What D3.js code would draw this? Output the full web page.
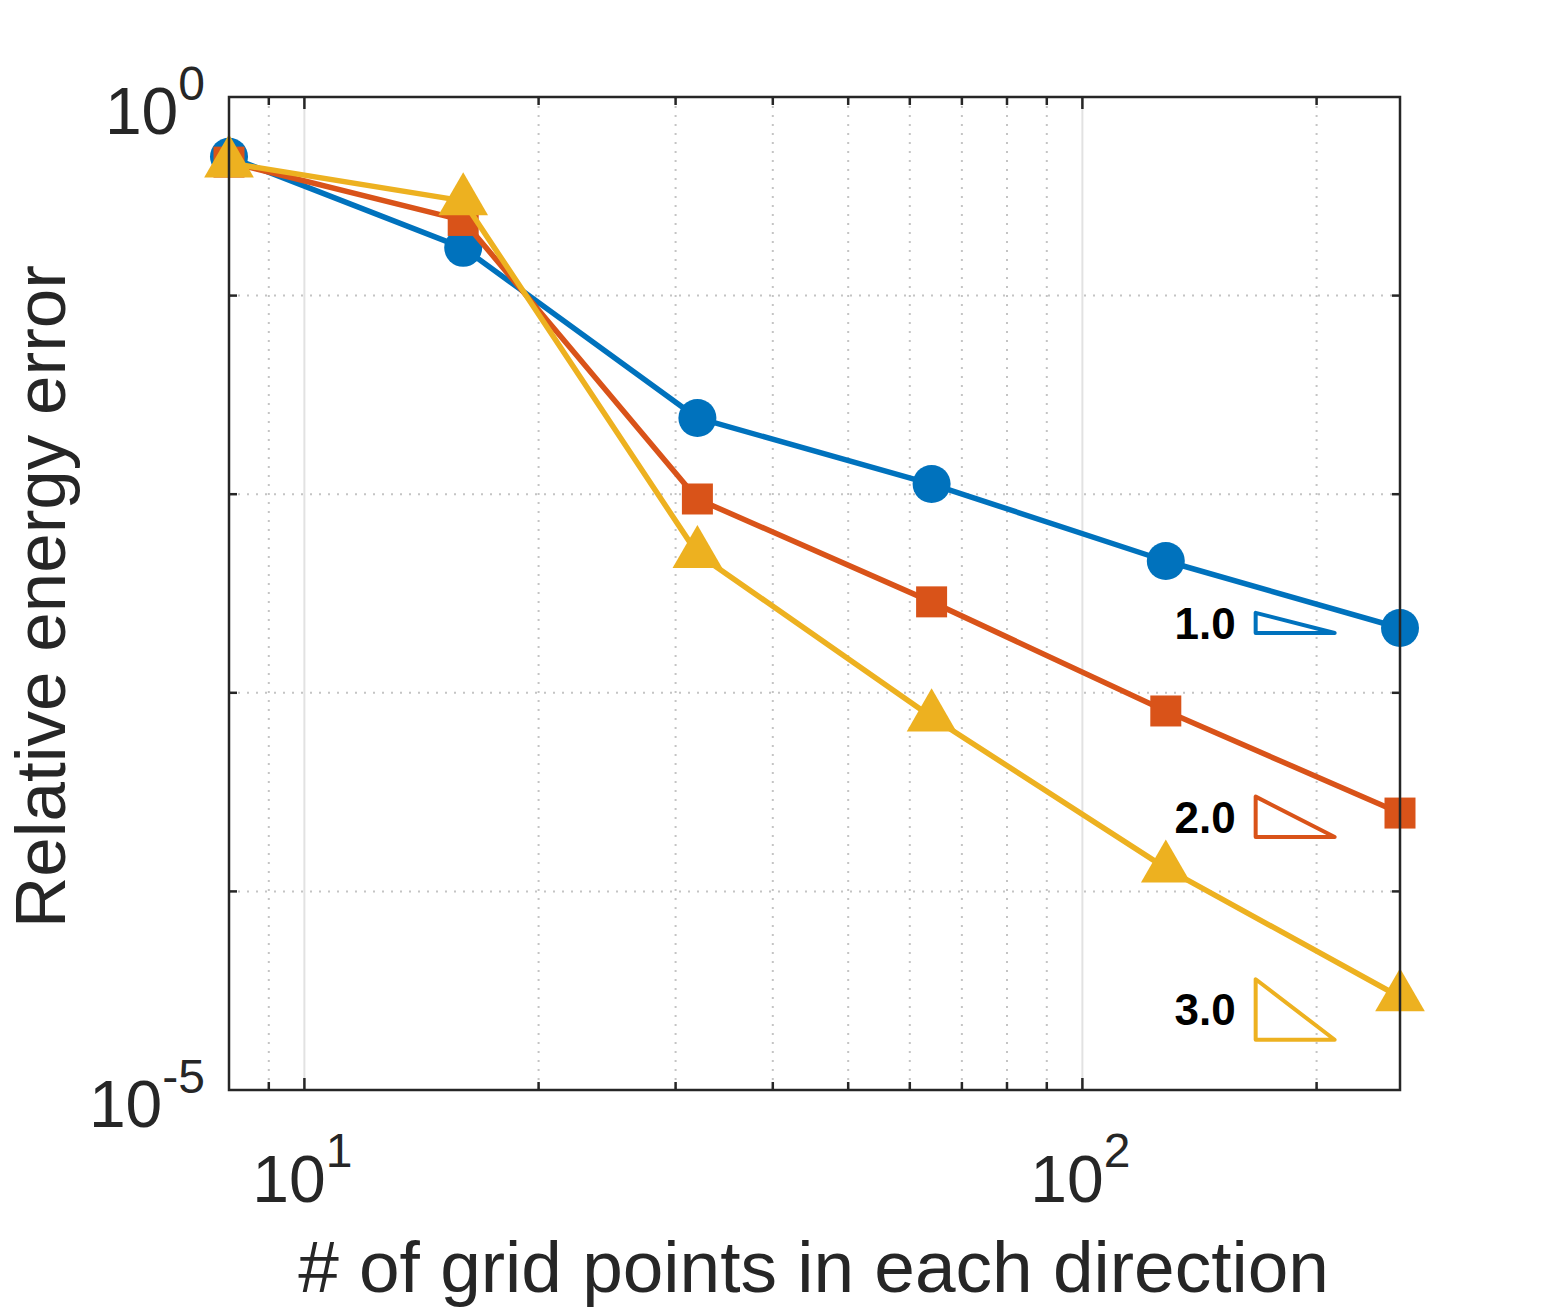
<!DOCTYPE html>
<html>
<head>
<meta charset="utf-8">
<script src="https://cdn.jsdelivr.net/npm/d3@7"></script>
<style>
    body { margin: 0; background: #fff; }
    text { font-family: "Liberation Sans", Arial, Helvetica, sans-serif; }
</style>
</head>
<body>
<div id="chart"></div>
<script>
// data
const gridPoints = [8, 16, 32, 64, 128, 256];
const errOrder1 = [0.5, 0.174, 0.0242, 0.01125, 0.00461, 0.00212];
const errOrder2 = [0.47, 0.239, 0.00946, 0.00287, 0.00081, 0.000248];
const errOrder3 = [0.465, 0.30, 0.00502, 0.000755, 0.000131, 0.0000294];

const seriesNames = ["order1", "order2", "order3"];
const seriesColors = ["#0072BD", "#D95319", "#EDB120"];
const seriesMarkers = ["circle", "square", "triangle"];

// slope triangles
const slopeLabels = ["1.0", "2.0", "3.0"];
const slopeOrders = [1, 2, 3];
const slopeBaseY = [2.0e-3, 1.88e-4, 1.79e-5];
const slopeX = [167, 211];

// axes
const xDomain = [8, 256];
const yDomain = [1e-5, 1];
const xMajor = [10, 100];
const xMinor = [9, 20, 30, 40, 50, 60, 70, 80, 90, 200];
const yMajor = [1, 1e-5];
const yMinor = [1e-1, 1e-2, 1e-3, 1e-4];

class ConvVis {
    constructor(_parentElement) {
        this.parentElement = _parentElement;
        this.initVis();
    }

    initVis() {
        let vis = this;

        vis.W = 1549;
        vis.H = 1312;
        vis.left = 229; vis.right = 1400;
        vis.top = 97; vis.bottom = 1090;

        vis.svg = d3.select("#" + vis.parentElement).append("svg")
            .attr("width", vis.W)
            .attr("height", vis.H);

        vis.x = d3.scaleLog().domain(xDomain).range([vis.left, vis.right]);
        vis.y = d3.scaleLog().domain(yDomain).range([vis.bottom, vis.top]);

        vis.drawGrid();
        vis.drawSeries();
        vis.drawSlopes();
        vis.drawAxes();
    }

    drawGrid() {
        let vis = this;
        let g = vis.svg.append("g").attr("class", "grid");

        g.selectAll(".xminor").data(xMinor).enter().append("line")
            .attr("x1", d => vis.x(d)).attr("x2", d => vis.x(d))
            .attr("y1", vis.top).attr("y2", vis.bottom)
            .attr("stroke", "#c4c4c4").attr("stroke-width", 2)
            .attr("stroke-dasharray", "2,7");

        g.selectAll(".yminor").data(yMinor).enter().append("line")
            .attr("y1", d => vis.y(d)).attr("y2", d => vis.y(d))
            .attr("x1", vis.left).attr("x2", vis.right)
            .attr("stroke", "#c4c4c4").attr("stroke-width", 2)
            .attr("stroke-dasharray", "2,7");

        g.selectAll(".xmajor").data(xMajor).enter().append("line")
            .attr("x1", d => vis.x(d)).attr("x2", d => vis.x(d))
            .attr("y1", vis.top).attr("y2", vis.bottom)
            .attr("stroke", "#e2e2e2").attr("stroke-width", 2);
    }

    drawSeries() {
        let vis = this;
        let allErr = [errOrder1, errOrder2, errOrder3];

        let line = d3.line()
            .x(d => vis.x(d.n))
            .y(d => vis.y(d.e));

        let symbolTypes = {
            circle: { type: d3.symbolCircle, size: Math.PI * 19 * 19 },
            square: { type: d3.symbolSquare, size: 31 * 31 },
            triangle: { type: d3.symbolTriangle, size: 1070 }
        };

        allErr.forEach((errs, i) => {
            let pts = gridPoints.map((n, j) => ({ n: n, e: errs[j] }));
            let sg = vis.svg.append("g").attr("class", "series " + seriesNames[i]);

            sg.append("path")
                .datum(pts)
                .attr("d", line)
                .attr("fill", "none")
                .attr("stroke", seriesColors[i])
                .attr("stroke-width", 5.5)
                .attr("stroke-linejoin", "round");

            let sym = symbolTypes[seriesMarkers[i]];
            sg.selectAll("path.marker").data(pts).enter().append("path")
                .attr("class", "marker")
                .attr("transform", d => `translate(${vis.x(d.n)},${vis.y(d.e)})`)
                .attr("d", d3.symbol().type(sym.type).size(sym.size))
                .attr("fill", seriesColors[i]);
        });
    }

    drawSlopes() {
        let vis = this;
        let x0 = vis.x(slopeX[0]), x1 = vis.x(slopeX[1]);

        slopeOrders.forEach((p, i) => {
            let yb = slopeBaseY[i];
            let yt = yb * Math.pow(slopeX[1] / slopeX[0], p);
            let pb = vis.y(yb), pt = vis.y(yt);

            vis.svg.append("path")
                .attr("d", `M${x0},${pt}L${x0},${pb}L${x1},${pb}Z`)
                .attr("fill", "none")
                .attr("stroke", seriesColors[i])
                .attr("stroke-width", 4)
                .attr("stroke-linejoin", "round");

            vis.svg.append("text")
                .attr("x", x0 - 20)
                .attr("y", (pt + pb) / 2)
                .attr("dy", "0.36em")
                .attr("text-anchor", "end")
                .attr("font-size", 44)
                .attr("font-weight", "bold")
                .attr("fill", "#000")
                .text(slopeLabels[i]);
        });
    }

    drawAxes() {
        let vis = this;
        let ax = vis.svg.append("g").attr("class", "axes");
        let col = "#262626";

        // box
        ax.append("rect")
            .attr("x", vis.left).attr("y", vis.top)
            .attr("width", vis.right - vis.left)
            .attr("height", vis.bottom - vis.top)
            .attr("fill", "none")
            .attr("stroke", col)
            .attr("stroke-width", 2.5);

        // inward ticks, bottom + top
        let xt = xMajor.map(d => ({ v: d, len: 12 })).concat(xMinor.map(d => ({ v: d, len: 8 })));
        [vis.bottom, vis.top].forEach((yy, k) => {
            ax.selectAll(".xt" + k).data(xt).enter().append("line")
                .attr("x1", d => vis.x(d.v)).attr("x2", d => vis.x(d.v))
                .attr("y1", yy)
                .attr("y2", d => k === 0 ? yy - d.len : yy + d.len)
                .attr("stroke", col).attr("stroke-width", 2.5);
        });

        // inward ticks, left + right
        let yt = yMinor.map(d => ({ v: d, len: 8 }));
        [vis.left, vis.right].forEach((xx, k) => {
            ax.selectAll(".yt" + k).data(yt).enter().append("line")
                .attr("y1", d => vis.y(d.v)).attr("y2", d => vis.y(d.v))
                .attr("x1", xx)
                .attr("x2", d => k === 0 ? xx + d.len : xx - d.len)
                .attr("stroke", col).attr("stroke-width", 2.5);
        });

        // tick labels 10^n
        let xl = ax.selectAll(".xlab").data(xMajor).enter().append("text")
            .attr("x", d => vis.x(d) - 2)
            .attr("y", vis.bottom + 112)
            .attr("text-anchor", "middle")
            .attr("fill", col)
            .attr("font-size", 66);
        xl.append("tspan").text("10");
        xl.append("tspan").attr("font-size", 48).attr("dy", -35)
            .text(d => Math.round(Math.log10(d)));

        let yl = ax.selectAll(".ylab").data(yMajor).enter().append("text")
            .attr("x", vis.left - 24)
            .attr("y", d => vis.y(d) + 37)
            .attr("text-anchor", "end")
            .attr("fill", col)
            .attr("font-size", 66);
        yl.append("tspan").text("10");
        yl.append("tspan").attr("font-size", 48).attr("dy", -34)
            .text(d => Math.round(Math.log10(d)));

        // axis titles
        ax.append("text")
            .attr("x", (vis.left + vis.right) / 2 - 1)
            .attr("y", 1292)
            .attr("text-anchor", "middle")
            .attr("fill", col)
            .attr("font-size", 73)
            .text("# of grid points in each direction");

        ax.append("text")
            .attr("transform", `translate(65,${(vis.top + vis.bottom) / 2 + 3}) rotate(-90)`)
            .attr("text-anchor", "middle")
            .attr("fill", col)
            .attr("font-size", 71)
            .text("Relative energy error");
    }
}

new ConvVis("chart");
</script>
</body>
</html>
